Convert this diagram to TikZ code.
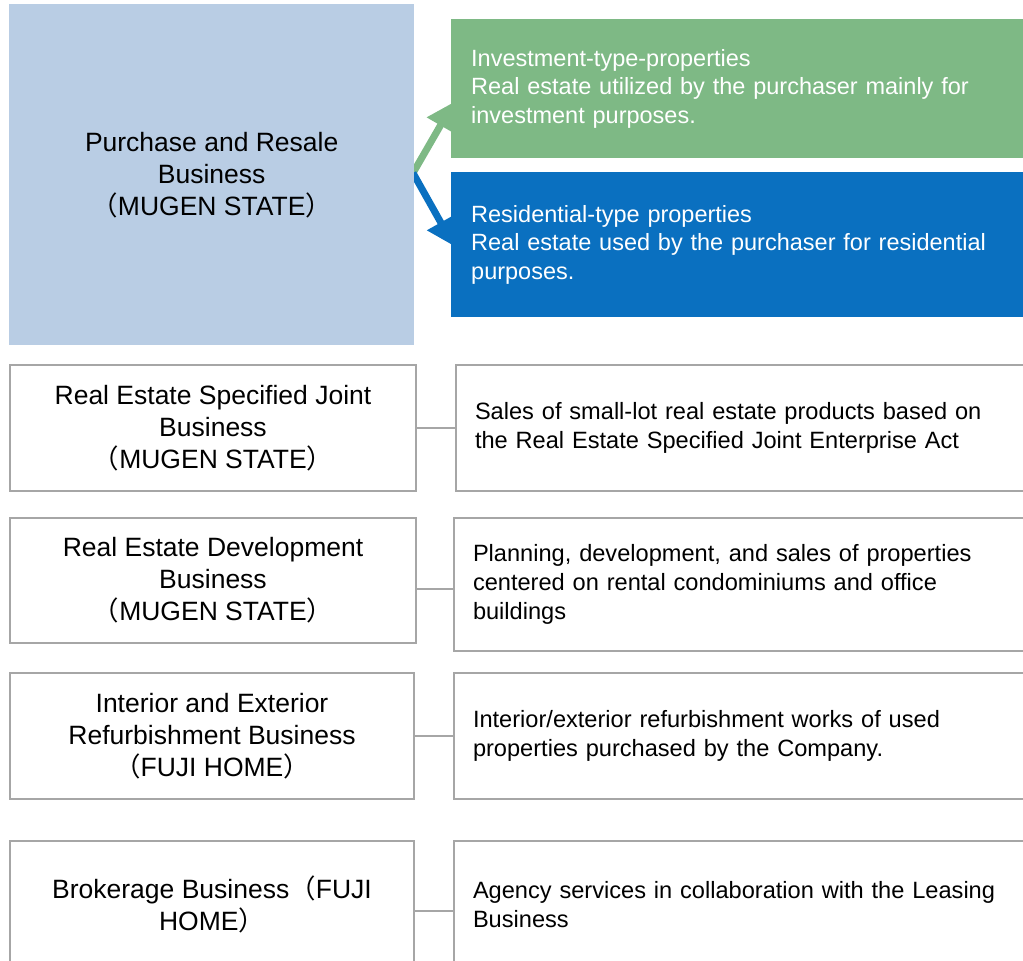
\documentclass[tikz,border=0pt]{standalone}
\usepackage{fontspec}
\setmainfont{Liberation Sans}
\newfontfamily\cjk{Noto Sans CJK JP}
\usetikzlibrary{arrows.meta}
\definecolor{purchaseblue}{RGB}{185,205,228}
\definecolor{investgreen}{RGB}{126,185,133}
\definecolor{residblue}{RGB}{10,112,192}
\definecolor{boxgray}{RGB}{166,166,166}
\newcommand{\fwlp}{{\cjk （}}
\newcommand{\fwrp}{{\cjk ）}}

\begin{document}
\begin{tikzpicture}[x=1pt,y=-1pt,
    bizbox/.style={draw=boxgray,line width=2pt,anchor=north west,align=center,inner sep=0pt,
        minimum width=406pt,font=\fontsize{26.5}{32}\selectfont},
    descbox/.style={draw=boxgray,line width=2pt,anchor=north west,align=left,text width=560pt,
        inner xsep=19pt,inner ysep=0pt,font=\fontsize{23.6}{28.7}\selectfont},
    typebox/.style={anchor=north west,align=left,text width=560pt,inner xsep=20pt,inner ysep=0pt,
        text=white,font=\fontsize{23.5}{28.7}\selectfont},
    link/.style={draw=boxgray,line width=2pt},
    branch/.style={line width=7pt,-{Triangle[length=27pt,width=30pt]}}]
    \useasboundingbox (0,0) rectangle (1023,961);

    \coordinate (fork) at (413,173);
    \coordinate (tipg) at (454,102);
    \coordinate (tipb) at (454,246);
    \draw[branch,investgreen] (fork) -- (tipg);
    \draw[branch,residblue] (fork) -- (tipb);

    % purchase and resale
    \node[anchor=north west,fill=purchaseblue,minimum width=405pt,minimum height=341pt,align=center,
        font=\fontsize{26.5}{32}\selectfont] (purchase) at (9,4)
        {Purchase and Resale\\Business\\\fwlp MUGEN STATE\fwrp};
    \node[typebox,fill=investgreen,minimum height=139pt] (invest) at (451,19)
        {Investment-type-properties\\Real estate utilized by the purchaser mainly for\\investment purposes.};
    \node[typebox,fill=residblue,minimum height=145pt] (resid) at (451,172)
        {Residential-type properties\\Real estate used by the purchaser for residential\\purposes.};

    % other businesses
    \node[bizbox,minimum height=126pt] (joint) at (9,364)
        {Real Estate Specified Joint\\Business\\\fwlp MUGEN STATE\fwrp};
    \node[descbox,minimum height=126pt] (jointdesc) at (455,364)
        {Sales of small-lot real estate products based on\\the Real Estate Specified Joint Enterprise Act};

    \node[bizbox,minimum height=125pt] (devel) at (9,517)
        {Real Estate Development\\Business\\\fwlp MUGEN STATE\fwrp};
    \node[descbox,minimum height=133pt] (develdesc) at (453,517)
        {Planning, development, and sales of properties\\centered on rental condominiums and office\\buildings};

    \node[bizbox,minimum width=404pt,minimum height=126pt] (refurb) at (9,672)
        {Interior and Exterior\\Refurbishment Business\\\fwlp FUJI HOME\fwrp};
    \node[descbox,minimum height=126pt] (refurbdesc) at (453,672)
        {Interior/exterior refurbishment works of used\\properties purchased by the Company.};

    \node[bizbox,minimum width=404pt,minimum height=127pt] (broker) at (9,840)
        {Brokerage Business\fwlp FUJI\\HOME\fwrp};
    \node[descbox,minimum height=127pt] (brokerdesc) at (453,840)
        {Agency services in collaboration with the Leasing\\Business};

    \path (0,428) coordinate (l1) (0,589) coordinate (l2) (0,736) coordinate (l3) (0,911) coordinate (l4);
    \draw[link] (joint.east |- l1) -- (jointdesc.west |- l1);
    \draw[link] (devel.east |- l2) -- (develdesc.west |- l2);
    \draw[link] (refurb.east |- l3) -- (refurbdesc.west |- l3);
    \draw[link] (broker.east |- l4) -- (brokerdesc.west |- l4);
\end{tikzpicture}
\end{document}
